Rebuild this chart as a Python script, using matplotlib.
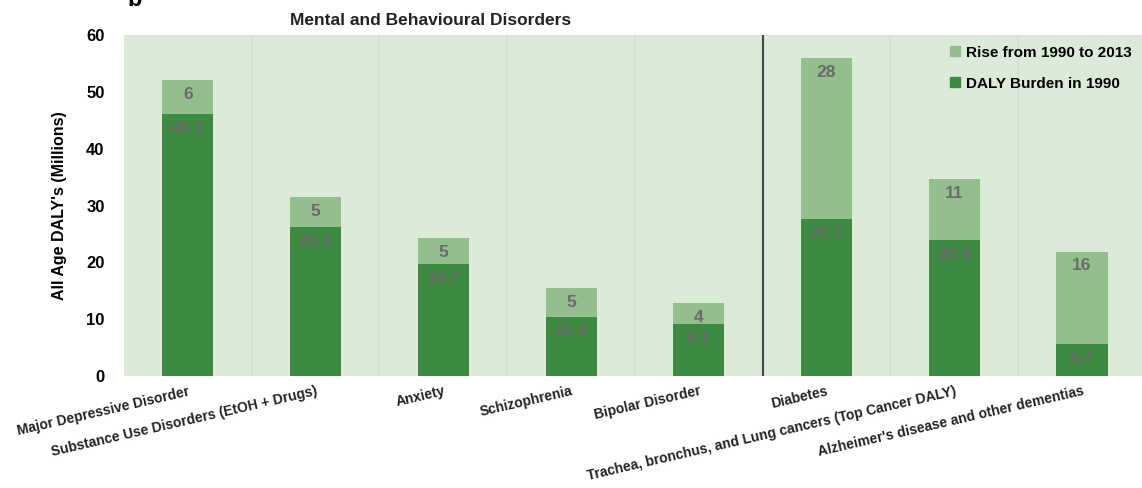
import numpy as np
import matplotlib
matplotlib.use("Agg")
import matplotlib.pyplot as plt
from matplotlib.lines import Line2D

plt.rcParams["font.family"] = ["Liberation Sans", "DejaVu Sans"]

categories = [
    "Major Depressive Disorder",
    "Substance Use Disorders (EtOH + Drugs)",
    "Anxiety",
    "Schizophrenia",
    "Bipolar Disorder",
    "Diabetes",
    "Trachea, bronchus, and Lung cancers (Top Cancer DALY)",
    "Alzheimer's disease and other dementias",
]
burden_1990 = [46.1, 26.3, 19.7, 10.4, 9.1, 27.7, 23.9, 5.7]
rise_2013 = [6.0, 5.2, 4.6, 5.1, 3.8, 28.2, 10.7, 16.2]
rise_labels = [6, 5, 5, 5, 4, 28, 11, 16]

dark = "#3d8b41"
light = "#93bf8e"
bg = "#dcebd8"
val_color = "#6a6a6a"

fig = plt.figure(figsize=(11.42, 4.88), dpi=100)
ax = fig.add_axes([0.1086, 0.2295, 0.8914, 0.6985])
ax.set_facecolor(bg)

x = np.arange(len(categories))
w = 0.4

# faint separators between categories
for xi in x[:-1]:
    ax.axvline(xi + 0.5, color="#d3e5cf", lw=1.5, zorder=0)

ax.bar(x, burden_1990, width=w, color=dark, zorder=2)
ax.bar(x, rise_2013, width=w, bottom=burden_1990, color=light, zorder=2)

for xi, b, r, lab in zip(x, burden_1990, rise_2013, rise_labels):
    ax.text(xi, b + r - 1.2, str(lab), ha="center", va="top",
            fontsize=12.5, fontweight="bold", color=val_color, zorder=3)
    ax.text(xi, b - 1.3, f"{b:.1f}", ha="center", va="top",
            fontsize=12.5, fontweight="bold", color=val_color, zorder=3)

ax.plot([4.5, 4.5], [0, 60], color="#444444", lw=1.5, zorder=3)

ax.set_xlim(-0.5, 7.47)
ax.set_ylim(0, 60)
ax.set_yticks([0, 10, 20, 30, 40, 50, 60])
ax.tick_params(axis="y", length=0, labelsize=12, pad=14)
for t in ax.get_yticklabels():
    t.set_fontweight("bold")
ax.set_xticks(x)
ax.set_xticklabels(categories, rotation=13, ha="right", rotation_mode="anchor",
                   fontsize=10, fontweight="bold", color="#222222")
ax.tick_params(axis="x", length=0, pad=6)
for sp in ax.spines.values():
    sp.set_visible(False)

ax.set_ylabel("All Age DALY's (Millions)", fontsize=11.5, fontweight="bold", labelpad=14)

ax.text(1.9, 61.3, "Mental and Behavioural Disorders", ha="center", va="bottom",
        fontsize=12.5, fontweight="bold", color="#222222")
fig.text(0.112, 1.0, "b", ha="left", va="center", fontsize=17, fontweight="bold")

handles = [
    Line2D([], [], marker="s", ls="none", color=light, markersize=7,
           label="Rise from 1990 to 2013"),
    Line2D([], [], marker="s", ls="none", color=dark, markersize=7,
           label="DALY Burden in 1990"),
]
leg = ax.legend(handles=handles, loc="upper right", frameon=False,
                prop={"weight": "bold", "size": 11}, handletextpad=0.2,
                labelspacing=1.1, borderaxespad=0.3, handlelength=1)

fig.savefig("out.png", dpi=100)
